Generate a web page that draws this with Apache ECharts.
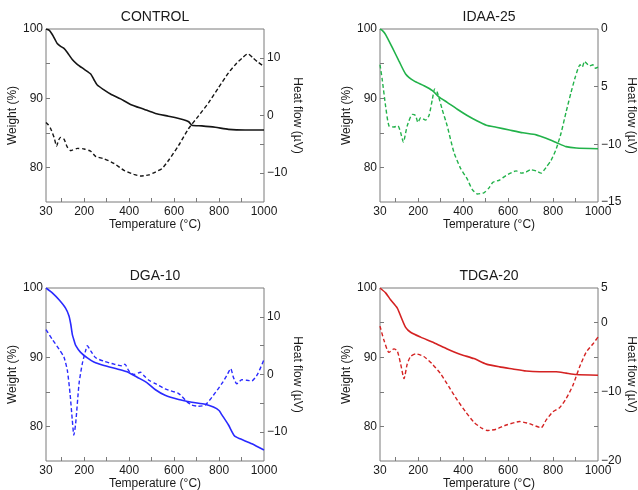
<!DOCTYPE html>
<html><head><meta charset="utf-8">
<script src="https://cdn.jsdelivr.net/npm/echarts@6/dist/echarts.min.js"></script>
<style>html,body{margin:0;padding:0;background:#fff}#c{width:638px;height:490px}</style>
</head><body><div id="c"></div><script>
// ---- axis ticks / labels ----
const xLabelValues = [30, 200, 400, 600, 800, 1000];
const xTickValues = [100, 200, 300, 400, 500, 600, 700, 800, 900];
const weightLabelValues = [80, 90, 100];
const weightTickValues = [80, 85, 90, 95];

const controlHeatLabelValues = [-10, 0, 10];
const controlHeatLabelTexts = ['\u221210', '0', '10'];
const controlHeatTickValues = [-10, -5, 0, 5, 10];
const idaaHeatLabelValues = [-15, -10, -5, 0];
const idaaHeatLabelTexts = ['\u221215', '\u221210', '5', '0'];
const idaaHeatTickValues = [-10, -5];
const dgaHeatLabelValues = [-10, 0, 10];
const dgaHeatLabelTexts = ['\u221210', '0', '10'];
const dgaHeatTickValues = [-10, -5, 0, 5, 10];
const tdgaHeatLabelValues = [-20, -10, 0, 5];
const tdgaHeatLabelTexts = ['\u221220', '\u221210', '0', '5'];
const tdgaHeatTickValues = [-15, -10, -5, 0];

// ---- CONTROL ----
const controlWeightT = [30, 45, 58, 70, 80, 95, 110, 125, 147, 169, 199, 229, 243, 258, 288, 317, 362, 406, 466, 517, 575, 642, 665, 679, 723, 783, 842, 916, 1000];
const controlWeight = [100, 99.8, 99.2, 98.5, 97.9, 97.5, 97.2, 96.6, 95.6, 94.9, 94.2, 93.5, 92.7, 91.9, 91.2, 90.6, 89.9, 89.1, 88.4, 87.8, 87.4, 86.9, 86.6, 86.1, 86.0, 85.8, 85.5, 85.4, 85.4];
const controlHeatT = [30, 40, 51, 66, 77, 87, 95, 110, 125, 140, 170, 200, 229, 251, 288, 332, 377, 421, 451, 488, 517, 546, 575, 620, 664, 708, 753, 797, 842, 879, 901, 928, 953, 975, 1000];
const controlHeat = [-1.2, -1.6, -2.3, -3.8, -5.3, -4.2, -3.8, -4.1, -5.5, -6.1, -5.7, -5.8, -6.2, -7.1, -7.5, -8.3, -9.5, -10.2, -10.5, -10.3, -9.8, -9.2, -7.8, -5.2, -2.3, -0.1, 2.2, 4.8, 7.4, 9.1, 9.9, 10.7, 9.9, 9.2, 8.5];

// ---- IDAA-25 ----
const idaaWeightT = [30, 40, 55, 85, 114, 144, 181, 226, 263, 292, 329, 374, 418, 463, 503, 547, 606, 666, 725, 769, 814, 858, 903, 1000];
const idaaWeight = [100, 99.8, 99.2, 97.3, 95.4, 93.5, 92.5, 91.8, 91.1, 90.2, 89.4, 88.4, 87.5, 86.7, 86.1, 85.8, 85.4, 85.0, 84.7, 84.2, 83.6, 83.0, 82.8, 82.7];
const idaaHeatT = [30, 40, 55, 70, 92, 110, 122, 134, 151, 174, 188, 199, 211, 233, 248, 263, 273, 285, 307, 329, 359, 389, 418, 440, 463, 492, 514, 532, 562, 591, 636, 660, 680, 700, 725, 747, 769, 791, 814, 836, 858, 880, 900, 920, 930, 940, 950, 962, 977, 988, 1000];
const idaaHeat = [-3.1, -4.4, -6.7, -8.4, -8.5, -8.4, -9.0, -9.8, -8.4, -7.4, -7.5, -8.1, -7.7, -7.9, -7.5, -6.1, -5.2, -5.5, -7.0, -8.4, -10.7, -12.1, -13.0, -13.9, -14.3, -14.2, -13.8, -13.3, -13.1, -12.7, -12.3, -12.5, -12.4, -12.2, -12.3, -12.5, -12.0, -11.4, -10.4, -9.0, -7.2, -5.5, -4.1, -3.1, -3.3, -2.8, -3.0, -3.2, -3.1, -3.4, -3.3];

// ---- DGA-10 ----
const dgaWeightT = [30, 58, 88, 117, 132, 140, 147, 155, 162, 184, 214, 243, 288, 347, 391, 436, 480, 517, 560, 620, 679, 738, 775, 800, 812, 842, 869, 894, 946, 1000];
const dgaWeight = [100, 99.3, 98.3, 97.1, 96.0, 94.8, 93.3, 92.4, 91.7, 90.7, 89.9, 89.3, 88.8, 88.3, 87.9, 87.1, 86.3, 85.3, 84.5, 83.9, 83.5, 83.2, 82.8, 82.3, 81.7, 80.2, 78.6, 78.2, 77.5, 76.6];
const dgaHeatT = [30, 58, 88, 110, 125, 137, 147, 154, 162, 177, 191, 206, 214, 229, 251, 288, 332, 369, 381, 399, 421, 451, 466, 488, 517, 560, 620, 657, 679, 708, 738, 775, 812, 834, 852, 864, 879, 901, 923, 946, 972, 1000];
const dgaHeat = [7.8, 6.1, 4.4, 3.0, 0.7, -3.3, -7.9, -10.5, -8.5, -1.6, 1.8, 4.1, 5.0, 4.1, 2.9, 2.3, 1.8, 1.5, 1.8, 0.6, 0.0, 0.4, -0.2, -1.0, -1.6, -2.5, -3.3, -4.7, -5.3, -5.5, -5.3, -3.6, -1.6, -0.2, 1.0, -0.5, -1.6, -0.9, -1.0, -1.1, 0.1, 2.6];

// ---- TDGA-20 ----
const tdgaWeightT = [30, 55, 77, 107, 125, 144, 166, 211, 270, 329, 389, 448, 503, 562, 621, 680, 740, 814, 858, 903, 1000];
const tdgaWeight = [100, 99.3, 98.3, 97.1, 95.7, 94.3, 93.6, 92.9, 92.1, 91.2, 90.4, 89.8, 89.0, 88.6, 88.3, 88.0, 87.9, 87.9, 87.7, 87.5, 87.4];
const tdgaHeatT = [30, 48, 70, 92, 107, 122, 137, 151, 166, 189, 225, 263, 300, 337, 374, 411, 448, 485, 510, 547, 592, 651, 695, 747, 769, 799, 829, 858, 888, 917, 947, 977, 1000];
const tdgaHeat = [-0.5, -2.6, -4.3, -3.8, -4.1, -6.0, -8.1, -6.0, -4.9, -4.5, -4.9, -6.0, -7.4, -9.3, -11.2, -12.9, -14.4, -15.3, -15.6, -15.4, -14.8, -14.3, -14.6, -15.2, -14.1, -12.9, -12.3, -11.0, -9.1, -6.5, -4.3, -3.1, -2.1];

const FONT = '"Liberation Sans", Arial, sans-serif';
const TXT = '#1a1a1a';
const AX = '#7a7a7a';

const panels = [
  {title: 'CONTROL', color: '#151515', wT: controlWeightT, w: controlWeight, hT: controlHeatT, h: controlHeat, hMin: -15, hMax: 15, lv: controlHeatLabelValues, lt: controlHeatLabelTexts, tv: controlHeatTickValues},
  {title: 'IDAA-25', color: '#22b24a', wT: idaaWeightT, w: idaaWeight, hT: idaaHeatT, h: idaaHeat, hMin: -15, hMax: 0, lv: idaaHeatLabelValues, lt: idaaHeatLabelTexts, tv: idaaHeatTickValues},
  {title: 'DGA-10', color: '#2a2aff', wT: dgaWeightT, w: dgaWeight, hT: dgaHeatT, h: dgaHeat, hMin: -15, hMax: 15, lv: dgaHeatLabelValues, lt: dgaHeatLabelTexts, tv: dgaHeatTickValues},
  {title: 'TDGA-20', color: '#d42222', wT: tdgaWeightT, w: tdgaWeight, hT: tdgaHeatT, h: tdgaHeat, hMin: -20, hMax: 5, lv: tdgaHeatLabelValues, lt: tdgaHeatLabelTexts, tv: tdgaHeatTickValues}
];
const pos = [{left: 46, top: 29}, {left: 380, top: 29}, {left: 46, top: 288}, {left: 380, top: 288}];
const GW = 218, GH = 173;

const zip = (a, b) => a.map((x, i) => [x, b[i]]);
const grid = [], xAxis = [], yAxis = [], series = [], graphic = [];
const lbl = {fontSize: 12, color: TXT, fontFamily: FONT};

panels.forEach((p, i) => {
  const g = pos[i];
  grid.push({left: g.left, top: g.top, width: GW, height: GH, show: true, borderColor: AX, borderWidth: 1, backgroundColor: 'transparent', containLabel: false, outerBoundsMode: 'none'});
  graphic.push({type: 'text', x: g.left + GW / 2, y: g.top - 12, style: {text: p.title, fill: TXT, font: '14px ' + FONT, textAlign: 'center', textVerticalAlign: 'middle'}});
  xAxis.push({
    gridIndex: i, type: 'value', min: 30, max: 1000, position: 'bottom',
    axisLine: {show: false, onZero: false},
    axisTick: {show: true, inside: true, length: 4, customValues: xTickValues, lineStyle: {color: AX}},
    axisLabel: Object.assign({customValues: xLabelValues, margin: 4, formatter: v => String(v)}, lbl),
    splitLine: {show: false},
    name: 'Temperature (\u00B0C)', nameLocation: 'middle', nameGap: 16,
    nameTextStyle: Object.assign({}, lbl)
  });
  yAxis.push({
    gridIndex: i, type: 'value', position: 'left', min: 75, max: 100,
    axisLine: {show: false, onZero: false},
    axisTick: {show: true, inside: true, length: 4, customValues: weightTickValues, lineStyle: {color: AX}},
    axisLabel: Object.assign({customValues: weightLabelValues, margin: 3, formatter: v => String(v)}, lbl),
    splitLine: {show: false},
    name: 'Weight (%)', nameLocation: 'middle', nameGap: 21, nameRotate: 90,
    nameTextStyle: Object.assign({}, lbl)
  });
  const map = {};
  p.lv.forEach((v, k) => { map[v] = p.lt[k]; });
  yAxis.push({
    gridIndex: i, type: 'value', position: 'right', min: p.hMin, max: p.hMax,
    alignTicks: false,
    axisLine: {show: false, onZero: false},
    axisTick: {show: true, inside: true, length: 4, customValues: p.tv, lineStyle: {color: AX}},
    axisLabel: Object.assign({customValues: p.lv, margin: 3, formatter: v => (map[v] !== undefined ? map[v] : '')}, lbl),
    splitLine: {show: false},
    name: 'Heat flow (\u00B5V)', nameLocation: 'middle', nameGap: 27, nameRotate: -90,
    nameTextStyle: Object.assign({}, lbl)
  });
  series.push({
    type: 'line', xAxisIndex: i, yAxisIndex: 2 * i, data: zip(p.wT, p.w),
    showSymbol: false, smooth: 0.2, lineStyle: {color: p.color, width: 1.6}, silent: true
  });
  series.push({
    type: 'line', xAxisIndex: i, yAxisIndex: 2 * i + 1, data: zip(p.hT, p.h),
    showSymbol: false, smooth: 0.2, lineStyle: {color: p.color, width: 1.4, type: [4, 2.5]}, silent: true
  });
});

const chart = echarts.init(document.getElementById('c'), null, {renderer: 'canvas'});
chart.setOption({animation: false, backgroundColor: '#fff', grid, xAxis, yAxis, series, graphic});
</script></body></html>
